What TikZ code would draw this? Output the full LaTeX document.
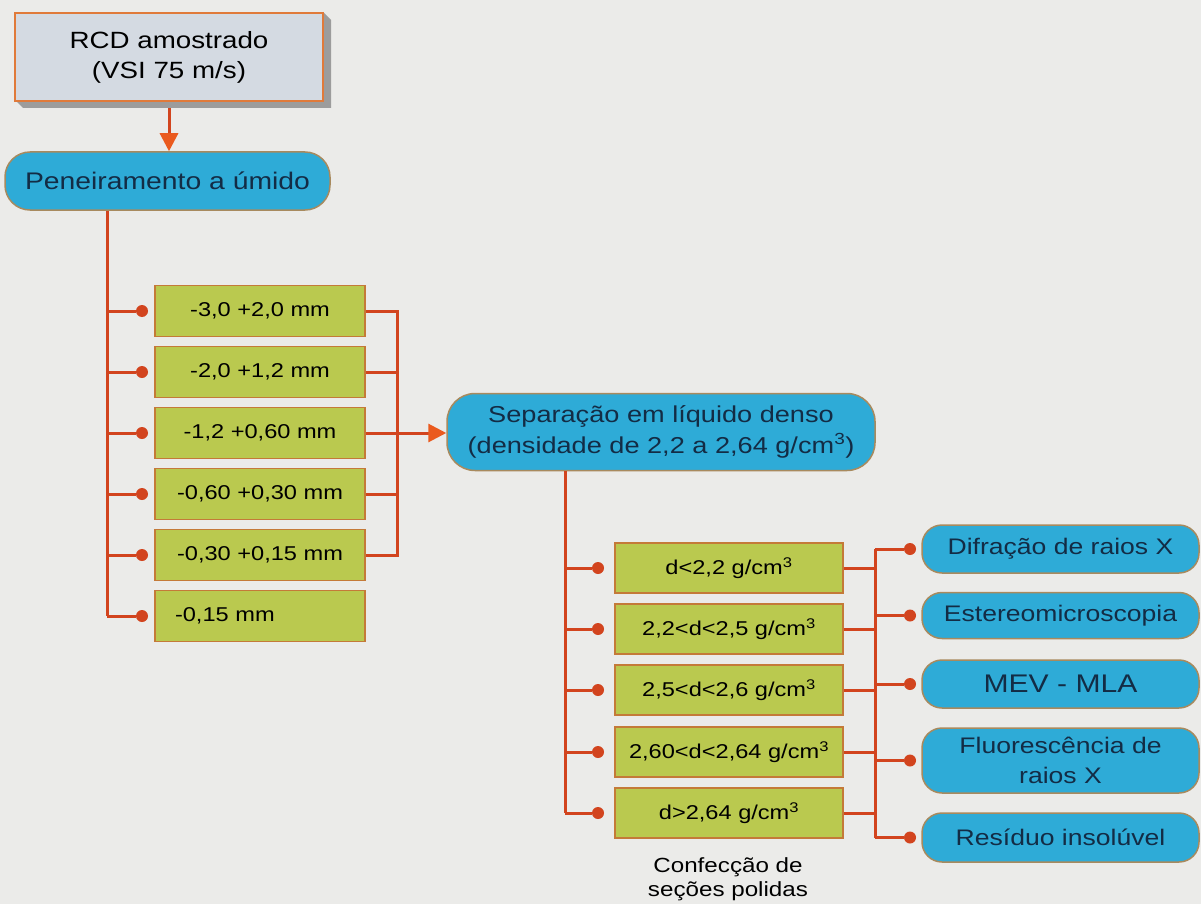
\documentclass[tikz,border=0pt]{standalone}
\usepackage{fontspec}
\setmainfont{Liberation Sans}[FakeStretch=1.18]
\usetikzlibrary{arrows.meta,calc}
\definecolor{bg}{HTML}{EBEBE9}
\definecolor{boxgreen}{HTML}{BAC94F}
\definecolor{boxborder}{HTML}{C47A38}
\definecolor{pillblue}{HTML}{2EABD7}
\definecolor{pillborder}{HTML}{A88A5E}
\definecolor{pilltext}{HTML}{132C45}
\definecolor{conn}{HTML}{D2441E}
\definecolor{arrtip}{HTML}{EA5A1E}
\definecolor{rcdfill}{HTML}{D4DAE2}
\definecolor{rcdborder}{HTML}{E07A3A}
\definecolor{shadowc}{HTML}{9C9C9C}
\tikzset{
  greenbox/.style={draw=boxborder, fill=boxgreen, line width=1.5pt, minimum width=210pt, minimum height=51pt, inner sep=0pt, font=\fontsize{20}{24}\selectfont, text=black},
  densbox/.style={greenbox, minimum width=228pt, minimum height=50pt},
  pill/.style={draw=pillborder, fill=pillblue, line width=1.5pt, inner sep=0pt, text=pilltext, align=center},
  rpill/.style={pill, rounded corners=20pt, minimum width=277pt, font=\fontsize{22.5}{27}\selectfont},
  cline/.style={draw=conn, line width=3pt},
  dotc/.style={circle, fill=conn, inner sep=0pt, minimum size=12pt},
  arr/.style={cline, -{Triangle[length=18pt,width=18pt,fill=arrtip,color=arrtip]}}
}
\begin{document}
\begin{tikzpicture}[x=1pt,y=-1pt]
\fill[bg] (0,0) rectangle (1201,904);
\useasboundingbox (0,0) rectangle (1201,904);

% RCD box with 3D shadow
\fill[shadowc] (15,100) -- (23,108) -- (331,108) -- (331,20) -- (323,12) -- (323,100) -- cycle;
\node[draw=rcdborder, fill=rcdfill, line width=1.5pt, minimum width=308pt, minimum height=88pt, inner sep=0pt, align=center, font=\fontsize{23.5}{30}\selectfont] (rcd) at (169,57) {RCD amostrado\\(VSI 75 m/s)};

% Peneiramento
\node[pill, rounded corners=25pt, minimum width=325pt, minimum height=58pt, font=\fontsize{24}{28}\selectfont] (pen) at (167.5,181) {Peneiramento a úmido};
\coordinate (rcdb) at (169,108);
\draw[arr] (rcdb) -- (rcdb |- pen.north);

% sieve fractions
\node[greenbox] (s1) at (260,311) {-3,0 +2,0 mm};
\node[greenbox] (s2) at (260,372) {-2,0 +1,2 mm};
\node[greenbox] (s3) at (260,433) {-1,2 +0,60 mm};
\node[greenbox] (s4) at (260,494) {-0,60 +0,30 mm};
\node[greenbox] (s5) at (260,555) {-0,30 +0,15 mm};
\node[greenbox, text width=170pt, align=left] (s6) at (260,616) {-0,15 mm};

\coordinate (lbot) at (107,616);
\draw[cline] (pen.south -| lbot) -- (lbot);
\foreach \i in {1,...,6}{
  \node[dotc] (ds\i) at (142,0 |- s\i.west) {};
  \draw[cline] (ds\i -| lbot) -- (ds\i);
}
\coordinate (rbx) at (397,0);
\draw[cline] (s1.east) -- (s1.east -| rbx) -- (s5.east -| rbx) -- (s5.east);
\draw[cline] (s2.east) -- (s2.east -| rbx);
\draw[cline] (s4.east) -- (s4.east -| rbx);

% Separacao
\node[pill, rounded corners=28pt, minimum width=428pt, minimum height=77pt, font=\fontsize{23}{31}\selectfont] (sep) at (661,432) {Separação em líquido denso\\(densidade de 2,2 a 2,64 g/cm\textsuperscript{3})};
\draw[arr] (s3.east) -- (s3.east -| sep.west);

% density fractions
\node[densbox] (d1) at (729,568) {d<2,2 g/cm\textsuperscript{3}};
\node[densbox] (d2) at (729,629) {2,2<d<2,5 g/cm\textsuperscript{3}};
\node[densbox] (d3) at (729,690) {2,5<d<2,6 g/cm\textsuperscript{3}};
\node[densbox] (d4) at (729,752) {2,60<d<2,64 g/cm\textsuperscript{3}};
\node[densbox] (d5) at (729,813) {d>2,64 g/cm\textsuperscript{3}};

\coordinate (dbot) at (565,813);
\draw[cline] (sep.south -| dbot) -- (dbot);
\foreach \i in {1,...,5}{
  \node[dotc] (dd\i) at (598,0 |- d\i.west) {};
  \draw[cline] (dd\i -| dbot) -- (dd\i);
}

\node[align=center, font=\fontsize{20.5}{24}\selectfont] (conf) at (728,879) {Confecção de\\seções polidas};

% analyses
\node[rpill, minimum height=48pt] (a1) at (1060.5,549) {Difração de raios X};
\node[rpill, minimum height=46pt] (a2) at (1060.5,615.5) {Estereomicroscopia};
\node[rpill, minimum height=48pt, font=\fontsize{25.5}{30}\selectfont] (a3) at (1060.5,684) {MEV - MLA};
\node[rpill, minimum height=65pt, font=\fontsize{22.5}{30}\selectfont] (a4) at (1060.5,760.5) {Fluorescência de\\raios X};
\node[rpill, minimum height=49pt] (a5) at (1060.5,837.5) {Resíduo insolúvel};

\coordinate (abx) at (875,0);
\foreach \i in {1,...,5}{
  \node[dotc] (da\i) at (910,0 |- a\i.west) {};
  \draw[cline] (da\i -| abx) -- (da\i);
  \draw[cline] (d\i.east) -- (d\i.east -| abx);
}
\draw[cline] (da1 -| abx) -- (da5 -| abx);
\end{tikzpicture}
\end{document}
